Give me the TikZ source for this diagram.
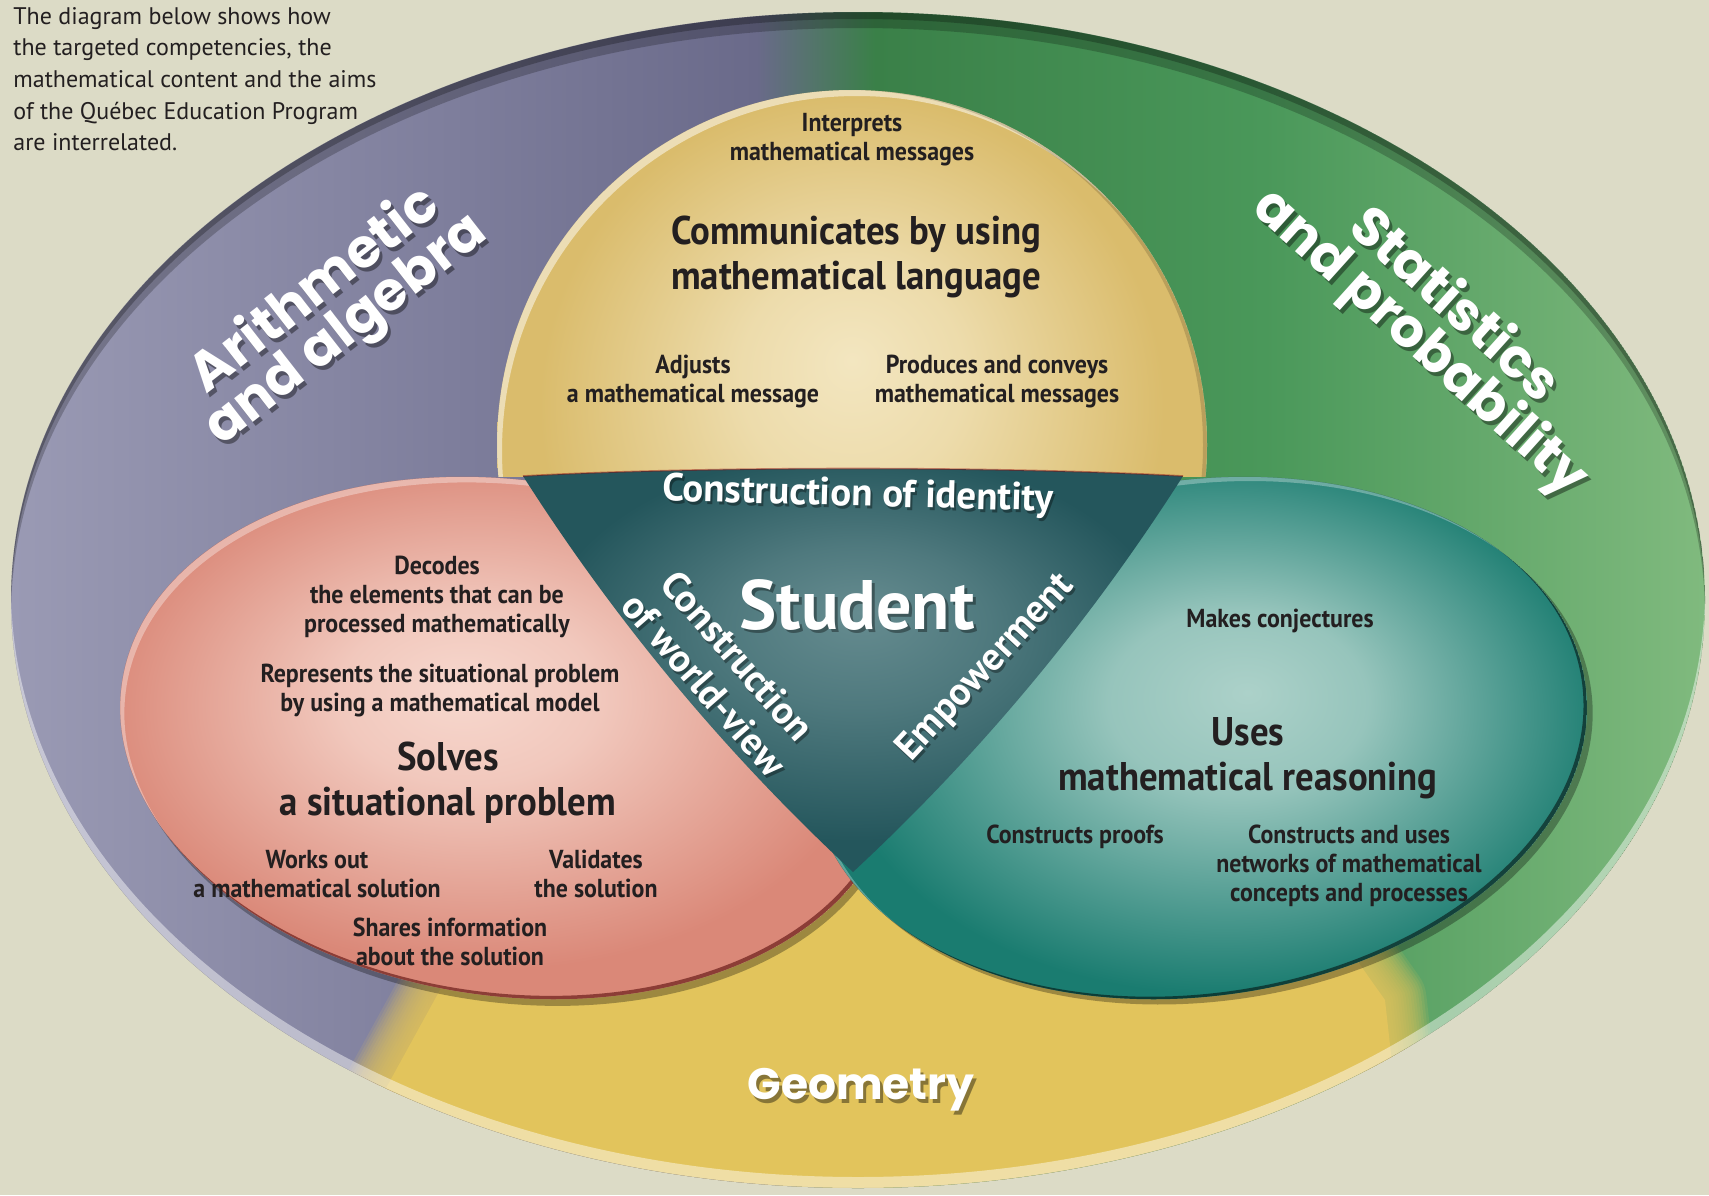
\documentclass[tikz,border=0pt]{standalone}
\usepackage{fontspec}
\setmainfont{PT Sans}
\newfontfamily\condfont[FakeStretch=0.92]{PT Sans}
\newfontfamily\funfont{Poppins}
\usetikzlibrary{calc}

\definecolor{paper}{RGB}{220,219,198}
\definecolor{ink}{RGB}{35,31,32}
\definecolor{purpleL}{RGB}{154,154,180}
\definecolor{purpleM}{RGB}{126,126,156}
\definecolor{purpleD}{RGB}{106,106,138}
\definecolor{greenD}{RGB}{58,128,72}
\definecolor{greenM}{RGB}{74,152,90}
\definecolor{greenL}{RGB}{128,186,126}
\definecolor{geoyellow}{RGB}{226,196,92}
\definecolor{commOut}{RGB}{218,188,108}
\definecolor{commIn}{RGB}{243,230,192}
\definecolor{solvOut}{RGB}{218,136,120}
\definecolor{solvIn}{RGB}{247,216,206}
\definecolor{reasOut}{RGB}{26,124,112}
\definecolor{reasIn}{RGB}{172,209,201}
\definecolor{studOut}{RGB}{36,86,92}
\definecolor{studIn}{RGB}{102,140,144}

% ring of the three mathematical fields: purple on the left, green on the right
\pgfdeclarehorizontalshading{ringshade}{100bp}{color(0bp)=(purpleL); color(25bp)=(purpleL);
  color(38bp)=(purpleM); color(47bp)=(purpleD); color(50.5bp)=(greenD); color(62bp)=(greenM);
  color(75bp)=(greenL); color(100bp)=(greenL)}
\pgfdeclareradialshading{commshade}{\pgfpoint{0bp}{6bp}}{color(0bp)=(commIn);
  color(8bp)=(commIn!75!commOut); color(22bp)=(commOut); color(40bp)=(commOut)}
\pgfdeclareradialshading{solvshade}{\pgfpoint{-3bp}{3bp}}{color(0bp)=(solvIn);
  color(8bp)=(solvIn!80!solvOut); color(24bp)=(solvOut); color(40bp)=(solvOut)}
\pgfdeclareradialshading{reasshade}{\pgfpoint{3bp}{4bp}}{color(0bp)=(reasIn);
  color(8bp)=(reasIn!85!reasOut); color(24bp)=(reasOut); color(40bp)=(reasOut)}
\pgfdeclareradialshading{studshade}{\pgfpoint{0.5bp}{7bp}}{color(0bp)=(studIn);
  color(10bp)=(studIn!65!studOut); color(24bp)=(studOut); color(40bp)=(studOut)}

\begin{document}
\begin{tikzpicture}[x=0.5pt,y=-0.5pt,
  lbl/.style={font=\condfont\bfseries\fontsize{13}{14.5}\selectfont, text=ink, align=center, inner sep=0pt},
  titlelbl/.style={font=\condfont\bfseries\fontsize{20}{22.3}\selectfont, text=ink, align=center, inner sep=0pt},
  aim/.style={font=\bfseries\fontsize{19.5}{22}\selectfont, text=white, align=center, inner sep=0pt},
  aimshadow/.style={aim, text=black, opacity=.35},
  deco/.style={font=\funfont\bfseries\fontsize{27}{25}\selectfont, text=white, align=center, inner sep=0pt},
  decoshadow/.style={deco, text=black, opacity=.4}]

\def\ringpath{(858,600) ellipse [x radius=423.5pt, y radius=294pt]}
\def\commpath{(852,445) circle [radius=177.5pt]}
\def\solvpath{(508,738) ellipse [x radius=195pt, y radius=129pt]}
\def\reaspath{(1199,738) ellipse [x radius=195pt, y radius=129pt]}
\def\geowedge{(853,760) -- (500,900) -- (440,990) -- (385,1090) -- (365,1260) -- (1405,1260)
  -- (1395,1090) -- (1385,1000) -- (1300,880) -- cycle}

\fill[paper] (0,0) rectangle (1709,1195);
\useasboundingbox (0,0) rectangle (1709,1195);

% outer ring
\begin{scope}
  \clip \ringpath;
  \shade[shading=ringshade] \ringpath;
  % soft edge of the geometry field
  \foreach \i in {1,...,16}
    \draw[geoyellow, line width=2.6*\i pt, opacity=0.13, line join=round] \geowedge;
  \fill[geoyellow] \geowedge;
  \fill[black, opacity=.22, even odd rule] \ringpath (858,616) ellipse [x radius=423.5pt, y radius=294pt];
  \fill[black, opacity=.25, even odd rule] \ringpath (858,607) ellipse [x radius=423.5pt, y radius=294pt];
  \fill[white, opacity=.45, even odd rule] \ringpath (858,589) ellipse [x radius=423.5pt, y radius=294pt];
\end{scope}

% competency: solves a situational problem
\begin{scope}[rotate around={-8:(508,738)}]
  \fill[black, opacity=.3] (513,744) ellipse [x radius=195pt, y radius=129pt];
  \shade[shading=solvshade] \solvpath;
  \begin{scope}
    \clip \solvpath;
    \fill[white, opacity=.35, even odd rule] \solvpath (513,743) ellipse [x radius=195pt, y radius=129pt];
    \fill[black!70!red, opacity=.55, even odd rule] \solvpath (505,735) ellipse [x radius=195pt, y radius=129pt];
  \end{scope}
\end{scope}

% competency: uses mathematical reasoning
\begin{scope}[rotate around={8:(1199,738)}]
  \fill[black, opacity=.3] (1204,744) ellipse [x radius=195pt, y radius=129pt];
  \shade[shading=reasshade] \reaspath;
  \begin{scope}
    \clip \reaspath;
    \fill[white, opacity=.3, even odd rule] \reaspath (1204,743) ellipse [x radius=195pt, y radius=129pt];
    \fill[black, opacity=.5, even odd rule] \reaspath (1196,735) ellipse [x radius=195pt, y radius=129pt];
  \end{scope}
\end{scope}

% competency: communicates
\begin{scope}
  \clip (0,0) rectangle (1709,476);
  \shade[shading=commshade] \commpath;
  \begin{scope}
    \clip \commpath;
    \fill[white, opacity=.5, even odd rule] \commpath (857,451) circle [radius=177.5pt];
    \fill[black, opacity=.15, even odd rule] \commpath (848,445) circle [radius=177.5pt];
  \end{scope}
\end{scope}

% the student at the centre
\coordinate (tA) at (523,476);
\coordinate (tB) at (1183,476);
\coordinate (tC) at (853,872);
\def\studpath{(tA) .. controls (700,466) and (1006,466) .. (tB) .. controls (1090,622) and (980,754) .. (tC)
  .. controls (726,754) and (616,622) .. (tA) -- cycle}
\shade[shading=studshade] \studpath;
\draw[red!60!black, opacity=.4, line width=0.8pt] (tA) .. controls (700,466) and (1006,466) .. (tB);

% introduction
\node[anchor=north west, align=left, inner sep=0pt, text=ink, font=\fontsize{12}{15.8}\selectfont] (intro) at (13,7)
  {The diagram below shows how\\the targeted competencies, the\\mathematical content and the aims\\of the Québec Education Program\\are interrelated.};

% mathematical fields, white lettering with a drop shadow
\node[decoshadow, rotate=38] (arithS) at (334,315) {Arithmetic\\and algebra};
\node[deco, rotate=38] (arith) at (331,311) {Arithmetic\\and algebra};
\node[decoshadow, rotate=-42] (statsS) at (1439,329) {Statistics\\and probability};
\node[deco, rotate=-42] (stats) at (1436,325) {Statistics\\and probability};
\node[decoshadow, font=\funfont\bfseries\fontsize{22}{24}\selectfont] (geomS) at (864,1094) {Geometry};
\node[deco, font=\funfont\bfseries\fontsize{22}{24}\selectfont] (geom) at (861,1090) {Geometry};

% communicates
\node[lbl] (interp) at (852,140) {Interprets\\mathematical messages};
\node[titlelbl] (comm) at (856,257) {Communicates by using\\mathematical language};
\node[lbl] (adjust) at (693,382) {Adjusts\\a mathematical message};
\node[lbl] (produce) at (997,382) {Produces and conveys\\mathematical messages};

% aims and the student
\node[aimshadow, rotate=-1.5] (identityS) at (860,499) {Construction of identity};
\node[aim, rotate=-1.5] (identity) at (858,496) {Construction of identity};
\node[aimshadow, font=\bfseries\fontsize{35}{37}\selectfont] (studentS) at (860,608) {Student};
\node[aim, font=\bfseries\fontsize{35}{37}\selectfont] (student) at (857,605) {Student};
\node[aimshadow, rotate=-49] (worldS) at (723,673) {Construction\\of world-view};
\node[aim, rotate=-49] (world) at (721,670) {Construction\\of world-view};
\node[aimshadow, rotate=47] (empowerS) at (988,671) {Empowerment};
\node[aim, rotate=47] (empower) at (986,668) {Empowerment};

% solves
\node[lbl] (decodes) at (437,597) {Decodes\\the elements that can be\\processed mathematically};
\node[lbl] (represents) at (440,691) {Represents the situational problem\\by using a mathematical model};
\node[titlelbl] (solves) at (448,783) {Solves\\a situational problem};
\node[lbl] (worksout) at (317,874) {Works out\\a mathematical solution};
\node[lbl] (validates) at (596,874) {Validates\\the solution};
\node[lbl] (shares) at (450,942) {Shares information\\about the solution};

% reasons
\node[lbl] (conject) at (1280,621) {Makes conjectures};
\node[titlelbl] (uses) at (1248,758) {Uses\\mathematical reasoning};
\node[lbl] (proofs) at (1075,837) {Constructs proofs};
\node[lbl] (networks) at (1349,866) {Constructs and uses\\networks of mathematical\\concepts and processes};
\end{tikzpicture}
\end{document}
